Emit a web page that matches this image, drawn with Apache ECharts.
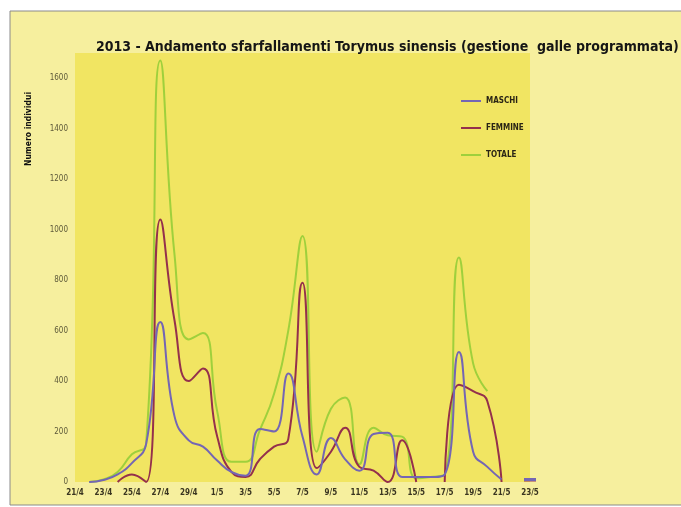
<!DOCTYPE html>
<html>
<head>
<meta charset="utf-8">
<script src="https://cdn.jsdelivr.net/npm/echarts@6/dist/echarts.min.js"></script>
<style>
html,body{margin:0;padding:0;background:#ffffff;}
#chart{width:681px;height:507px;}
</style>
</head>
<body>
<div id="chart"></div>
<script>
// Categories (daily, 21/4 .. 23/5)
const dates = ['21/4','22/4','23/4','24/4','25/4','26/4','27/4','28/4','29/4','30/4',
  '1/5','2/5','3/5','4/5','5/5','6/5','7/5','8/5','9/5','10/5','11/5','12/5','13/5',
  '14/5','15/5','16/5','17/5','18/5','19/5','20/5','21/5','22/5','23/5'];

const maschi = [null, 0, 8, 30, 75, 150, 634, 260, 165, 140, 85, 40, 25, 210, 200, 430, 180,
  30, 174, 90, 45, 190, 195, 20, 20, 20, 30, 515, 120, 60, 10, null, 10];

const femmine = [null, null, null, 0, 30, 0, 1040, 640, 400, 450, 180, 40, 20, 90, 140, 170, 790,
  55, 120, 215, 60, 45, 0, 165, 0, null, 0, 385, 360, 320, 0, null, 8];

const totale = [null, 0, 10, 40, 110, 150, 1670, 900, 565, 590, 280, 80, 80, 206, 350, 600, 975,
  120, 290, 335, 70, 215, 185, 180, 15, 20, 30, 890, 470, 360, null, null, null];

const yTicks = { min: 0, max: 1700, interval: 200 };

const chart = echarts.init(document.getElementById('chart'));

function isolatedSize(arr) {
  return function (val, params) {
    const i = params.dataIndex;
    const prev = i > 0 ? arr[i - 1] : null;
    const next = i < arr.length - 1 ? arr[i + 1] : null;
    return (prev === null && next === null) ? [12, 3] : 0;
  };
}

const FONT = "'Liberation Sans Narrow', 'DejaVu Sans Condensed', sans-serif";

chart.setOption({
  backgroundColor: '#ffffff',
  animation: false,
  graphic: [
    { type: 'rect', z: -10, shape: { x: 10, y: 11, width: 680, height: 494 },
      style: { fill: '#f6ef9e', stroke: '#8a8a8a', lineWidth: 1 } },
    { type: 'text', left: 24, top: 92, rotation: Math.PI / 2,
      style: { text: 'Numero individui', font: "bold 8.5px 'Liberation Sans Narrow', 'DejaVu Sans Condensed', sans-serif", fill: '#111' } }
  ],
  title: {
    text: '2013 - Andamento sfarfallamenti Torymus sinensis (gestione  galle programmata)',
    left: 91, top: 35,
    textStyle: { fontFamily: FONT, fontWeight: 'bold', fontSize: 14, color: '#151515' }
  },
  legend: {
    orient: 'vertical', left: 456, top: 92, itemGap: 19,
    itemWidth: 20, itemHeight: 2, icon: 'rect',
    data: ['MASCHI', 'FEMMINE', 'TOTALE'],
    textStyle: { fontFamily: FONT, fontWeight: 'bold', fontSize: 8, color: '#2a2515' }
  },
  grid: {
    left: 75, right: 151, top: 53, bottom: 25, show: true,
    backgroundColor: '#f1e562', borderWidth: 0
  },
  xAxis: {
    type: 'category', data: dates, boundaryGap: false,
    axisLine: { show: false }, axisTick: { show: false },
    axisLabel: { interval: 1, fontFamily: FONT, fontWeight: 'bold', fontSize: 8, color: '#3a3520', margin: 7 }
  },
  yAxis: {
    type: 'value', min: yTicks.min, max: yTicks.max, interval: yTicks.interval,
    splitLine: { show: false }, axisLine: { show: false },
    axisTick: { show: false },
    axisLabel: { showMaxLabel: false, formatter: function (v) { return String(v); },
      fontFamily: FONT, fontSize: 8, color: '#5e5a3a', margin: 7 }
  },
  series: [
    { name: 'TOTALE', type: 'line', data: totale, smooth: 0.5, symbol: 'none',
      lineStyle: { width: 2, color: '#9fd03c' }, itemStyle: { color: '#9fd03c' }, z: 1 },
    { name: 'FEMMINE', type: 'line', data: femmine, smooth: 0.5, symbol: 'rect',
      showSymbol: true, showAllSymbol: true, symbolSize: isolatedSize(femmine),
      lineStyle: { width: 2, color: '#94304c' }, itemStyle: { color: '#94304c' }, z: 2 },
    { name: 'MASCHI', type: 'line', data: maschi, smooth: 0.5, symbol: 'rect',
      showSymbol: true, showAllSymbol: true, symbolSize: isolatedSize(maschi),
      lineStyle: { width: 2, color: '#7466b4' }, itemStyle: { color: '#7466b4' }, z: 3 }
  ]
});
</script>
</body>
</html>
